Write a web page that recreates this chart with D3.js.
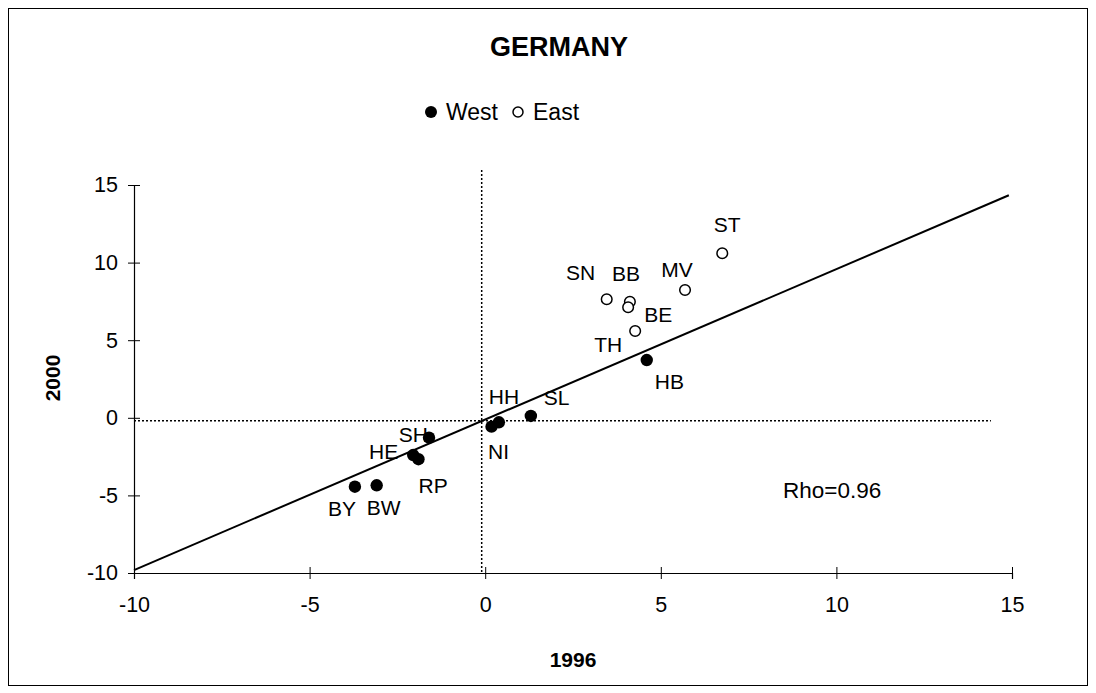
<!DOCTYPE html>
<html>
<head>
<meta charset="utf-8">
<script src="https://cdn.jsdelivr.net/npm/d3@7"></script>
<style>
    body { margin: 0; background: #fff; }
    svg { display: block; font-family: "Liberation Sans", Arial, sans-serif; }
</style>
</head>
<body>
<script>
// states, 1996 vs 2000
const westCodes = ["BY", "BW", "HE", "RP", "SH", "NI", "HH", "SL", "HB"];
const west1996 = [-3.71, -3.09, -2.05, -1.90, -1.60, 0.18, 0.39, 1.30, 4.60];
const west2000 = [-4.44, -4.35, -2.40, -2.67, -1.28, -0.57, -0.29, 0.12, 3.72];

const eastCodes = ["ST", "SN", "BB", "BE", "MV", "TH"];
const east1996 = [6.75, 3.46, 4.12, 4.07, 5.69, 4.27];
const east2000 = [10.60, 7.64, 7.48, 7.12, 8.23, 5.59];

const tickValues = [-10, -5, 0, 5, 10, 15];
const fitRange = [-10, 14.91];
const fitSlope = 0.9695;
const fitIntercept = -0.115;
const meanX = -0.10;
const meanY = -0.19;
const rhoText = "Rho=0.96";

// where each label sits relative to its point
const labelPlace = {
    BY: ["middle", -13, 29], BW: ["middle", 7, 30], HE: ["end", -15, 4],
    RP: ["start", 0, 34], SH: ["end", -1, 4], NI: ["middle", 7, 32],
    HH: ["middle", 5, -18], SL: ["start", 13, -11], HB: ["start", 8, 29],
    ST: ["middle", 5, -21], SN: ["middle", -26, -19], BB: ["middle", -4, -21],
    BE: ["start", 16, 15], MV: ["middle", -8, -13], TH: ["end", -13, 21]
};

const width = 1096, height = 693;
const svg = d3.select("body").append("svg")
    .attr("width", width)
    .attr("height", height);

svg.append("rect")
    .attr("x", 8.5).attr("y", 8.5)
    .attr("width", 1079).attr("height", 677)
    .attr("fill", "#fff")
    .attr("stroke", "#000")
    .attr("stroke-width", 1);

const x = d3.scaleLinear().domain([-10, 15]).range([134, 1012]);
const y = d3.scaleLinear().domain([-10, 15]).range([573, 185]);

// axes (plain hyphen for negatives)
const xAxis = svg.append("g")
    .attr("transform", `translate(0,${y(-10)})`)
    .call(d3.axisBottom(x).tickValues(tickValues).tickFormat(d => String(d)).tickSize(6).tickPadding(13));
const yAxis = svg.append("g")
    .attr("transform", `translate(${x(-10)},0)`)
    .call(d3.axisLeft(y).tickValues(tickValues).tickFormat(d => String(d)).tickSize(6).tickPadding(5));

[xAxis, yAxis].forEach(ax => {
    ax.select(".domain").attr("stroke", "#000").attr("stroke-width", 1.2);
    ax.selectAll(".tick line").attr("stroke", "#000");
    ax.selectAll(".tick text")
        .attr("fill", "#000")
        .style("font-size", "21.5px")
        .style("font-family", "'Liberation Sans', Arial, sans-serif");
});
// ticks cross the axis line
xAxis.selectAll(".tick line").attr("y1", -6);
yAxis.selectAll(".tick line").attr("x1", 6);
xAxis.selectAll(".tick text").attr("dy", "0.95em");
yAxis.selectAll(".tick text").attr("dx", "-5");

// mean lines
svg.append("line")
    .attr("x1", x(-10)).attr("x2", x(14.4))
    .attr("y1", y(meanY)).attr("y2", y(meanY))
    .attr("stroke", "#000").attr("stroke-width", 1.5)
    .attr("stroke-dasharray", "2,2");
svg.append("line")
    .attr("x1", x(meanX)).attr("x2", x(meanX))
    .attr("y1", 170).attr("y2", y(-10))
    .attr("stroke", "#000").attr("stroke-width", 1.5)
    .attr("stroke-dasharray", "2,2");

// regression line
const fitLine = d3.line()
    .x(d => x(d))
    .y(d => y(fitIntercept + fitSlope * d));
svg.append("path")
    .datum(fitRange)
    .attr("d", fitLine)
    .attr("fill", "none")
    .attr("stroke", "#000")
    .attr("stroke-width", 2);

const westData = westCodes.map((c, i) => ({ code: c, x: west1996[i], y: west2000[i] }));
const eastData = eastCodes.map((c, i) => ({ code: c, x: east1996[i], y: east2000[i] }));

svg.append("g").selectAll("circle")
    .data(westData).join("circle")
    .attr("cx", d => x(d.x)).attr("cy", d => y(d.y))
    .attr("r", 6.2)
    .attr("fill", "#000");

svg.append("g").selectAll("circle")
    .data(eastData).join("circle")
    .attr("cx", d => x(d.x)).attr("cy", d => y(d.y))
    .attr("r", 5.3)
    .attr("fill", "#fff")
    .attr("stroke", "#000")
    .attr("stroke-width", 1.5);

svg.append("g").selectAll("text")
    .data(westData.concat(eastData)).join("text")
    .attr("x", d => x(d.x) + labelPlace[d.code][1])
    .attr("y", d => y(d.y) + labelPlace[d.code][2])
    .attr("text-anchor", d => labelPlace[d.code][0])
    .style("font-size", "21px")
    .text(d => d.code);

// title & legend
svg.append("text")
    .attr("x", 559).attr("y", 56)
    .attr("text-anchor", "middle")
    .style("font-size", "27px").style("font-weight", "bold")
    .text("GERMANY");

svg.append("circle").attr("cx", 431).attr("cy", 112).attr("r", 6).attr("fill", "#000");
svg.append("text").attr("x", 446).attr("y", 120).style("font-size", "23px").text("West");
svg.append("circle").attr("cx", 518).attr("cy", 112).attr("r", 5)
    .attr("fill", "#fff").attr("stroke", "#000").attr("stroke-width", 1.5);
svg.append("text").attr("x", 533).attr("y", 120).style("font-size", "23px").text("East");

svg.append("text")
    .attr("x", 783).attr("y", 498)
    .style("font-size", "22.5px")
    .text(rhoText);

// axis titles
svg.append("text")
    .attr("x", 573).attr("y", 667)
    .attr("text-anchor", "middle")
    .style("font-size", "21px").style("font-weight", "bold")
    .text("1996");
svg.append("text")
    .attr("transform", "translate(60,378) rotate(-90)")
    .attr("text-anchor", "middle")
    .style("font-size", "21px").style("font-weight", "bold")
    .text("2000");
</script>
</body>
</html>
